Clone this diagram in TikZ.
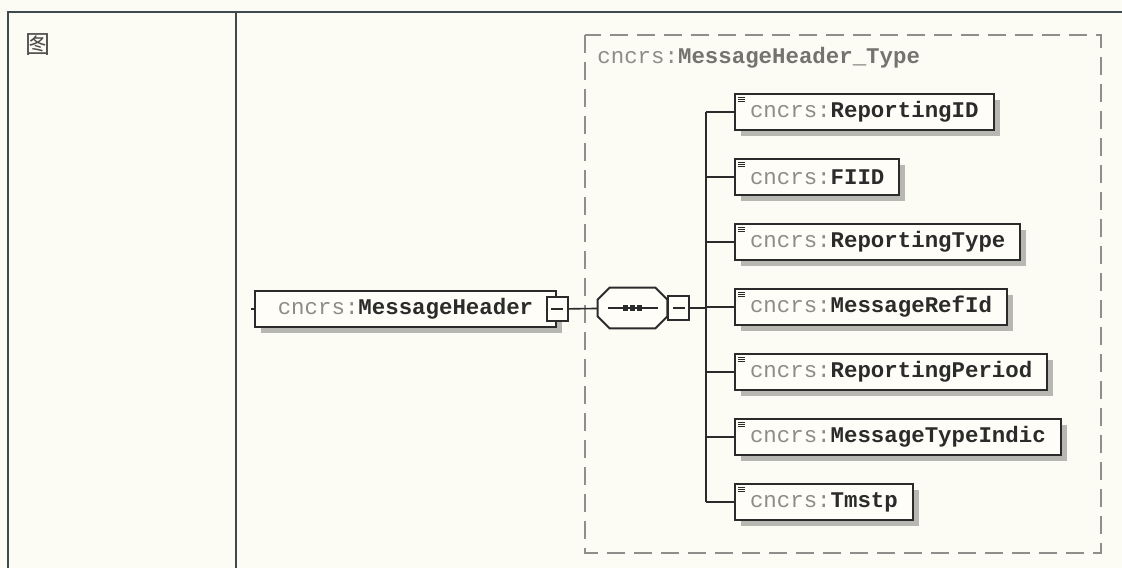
\documentclass[tikz,border=0pt]{standalone}
\usepackage{fontspec}
\setmonofont{Liberation Mono}
\newfontfamily\cjk{Noto Sans CJK SC}
\usetikzlibrary{calc, positioning, shadows}
\definecolor{paper}{HTML}{FCFBF4}
\definecolor{boxfill}{HTML}{FEFDF7}
\definecolor{inkdark}{HTML}{2B2B2B}
\definecolor{prefixgray}{HTML}{8C8C88}
\definecolor{titlegray}{HTML}{74746F}
\definecolor{framegray}{HTML}{8E8E8A}
\definecolor{rulecol}{HTML}{3E4A4E}
\definecolor{shadowgray}{HTML}{B8B8B3}
\newcommand{\elname}[1]{{\color{prefixgray}cncrs:}{\bfseries\color{inkdark}#1}}
% chamfered outline round a node
\newcommand{\octaoutline}[1]{($(#1.north west)+(6pt,0)$) -- ($(#1.north east)+(-6pt,0)$)
    -- ($(#1.north east)+(0,-6pt)$) -- ($(#1.south east)+(0,6pt)$)
    -- ($(#1.south east)+(-6pt,0)$) -- ($(#1.south west)+(6pt,0)$)
    -- ($(#1.south west)+(0,6pt)$) -- ($(#1.north west)+(0,-6pt)$) -- cycle}
\tikzset{
    elbox/.style={draw=inkdark, line width=1pt, fill=boxfill, minimum height=18pt,
        inner xsep=7.5pt, inner ysep=0pt, anchor=west,
        font=\ttfamily\fontsize{11.2}{12}\selectfont,
        drop shadow={shadow xshift=3pt, shadow yshift=-3pt, fill=shadowgray, opacity=1}},
    leafbox/.style={elbox, path picture={
        \foreach \k in {1.6,2.7,3.8}
            \draw[inkdark, line width=0.5pt] ([shift={(1.6pt,-\k pt)}]path picture bounding box.north west) -- ++(3.5pt,0);}},
    minusbox/.style={draw=inkdark, line width=1pt, fill=boxfill, minimum width=10.5pt,
        minimum height=12pt, inner sep=0pt, path picture={
        \draw[inkdark, line width=0.8pt] ([xshift=-3pt]path picture bounding box.center) -- ([xshift=3pt]path picture bounding box.center);}},
    seqbox/.style={minimum width=34.5pt, minimum height=20pt, inner sep=0pt},
    octa/.style={draw=inkdark, line width=1pt, fill=boxfill},
    conn/.style={draw=inkdark, line width=0.8pt}
}
\begin{document}
\begin{tikzpicture}[x=0.5pt, y=-0.5pt]
    \fill[paper] (0,0) rectangle (1122,568);
    \useasboundingbox (0,0) rectangle (1122,568);
    % table rules
    \draw[rulecol, line width=0.9pt] (1122,12) -- (8,12) -- (8,568);
    \draw[rulecol, line width=0.9pt] (236,12) -- (236,568);
    \node[font=\cjk\fontsize{12.5}{13}\selectfont, text=inkdark!85] (tu) at (38,45) {图};
    % type frame
    \draw[framegray, line width=0.6pt, dash pattern=on 9pt off 4.5pt] (585,35) rectangle (1101,553);
    \node[anchor=west, inner sep=0pt, font=\ttfamily\fontsize{11.2}{12}\selectfont] (typetitle) at (597,58)
        {{\color{prefixgray}cncrs:}{\bfseries\color{titlegray}MessageHeader\_Type}};
    % root element and sequence
    \node[elbox, minimum width=150.5pt] (hdr) at (254,309) {\elname{MessageHeader}};
    \node[minusbox] (hdrminus) at (hdr.east) {};
    \node[seqbox] (seq) at (632.5,308) {};
    \fill[shadowgray, xshift=3pt, yshift=-3pt] \octaoutline{seq};
    \draw[octa] \octaoutline{seq};
    \draw[conn] ($(seq.center)+(-12.5pt,0)$) -- ($(seq.center)+(12.5pt,0)$);
    \foreach \d in {-3.6,0,3.6}
        \fill[inkdark] ($(seq.center)+(\d pt,0)+(-1.3pt,-1.3pt)$) rectangle +(2.6pt,2.6pt);
    \node[minusbox, right=0pt of seq] (seqminus) {};
    \coordinate (trunk) at (706,308);
    \draw[conn] (hdr.west) -- ++(-3,0);
    \draw[conn] (hdrminus) -- (seq);
    \draw[conn] (seqminus) -- (trunk);
    % children
    \foreach \lbl [count=\i] in {ReportingID, FIID, ReportingType, MessageRefId,
            ReportingPeriod, MessageTypeIndic, Tmstp}
        \node[leafbox] (c\i) at (734,47+65*\i) {\elname{\lbl}};
    \draw[conn] (c1.west -| trunk) -- (c7.west -| trunk);
    \foreach \i in {1,...,7}
        \draw[conn] (c\i.west) -- (c\i.west -| trunk);
\end{tikzpicture}
\end{document}
